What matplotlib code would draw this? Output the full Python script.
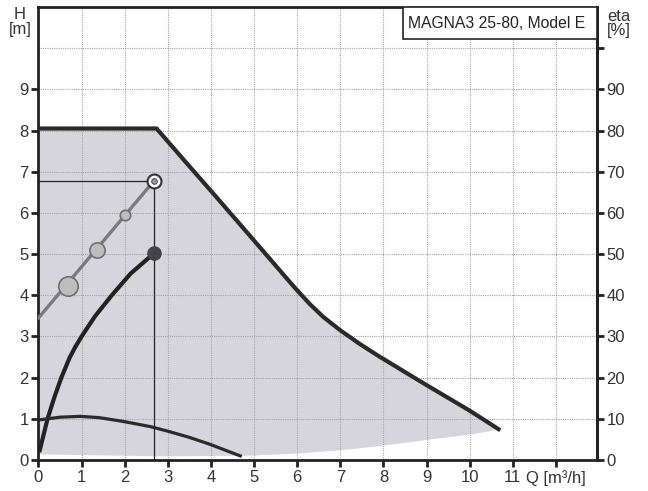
import matplotlib
matplotlib.use("Agg")
import matplotlib.pyplot as plt
import numpy as np
from matplotlib.patches import Rectangle

plt.rcParams["font.family"] = ["Liberation Sans", "DejaVu Sans"]

# max curve (upper edge of the operating area), H [m] vs Q [m3/h]
max_q = [0.0, 2.74, 3.36, 4.13, 4.9, 5.84, 6.0, 6.3, 6.6, 7.0, 7.45, 7.85, 8.62, 9.0, 10.0, 10.67]
max_h = [8.05, 8.05, 7.3, 6.38, 5.45, 4.31, 4.12, 3.78, 3.48, 3.15, 2.82, 2.55, 2.06, 1.82, 1.2, 0.75]

# lower edge of the shaded area
min_q = [0.0, 1.0, 3.0, 5.0, 6.0, 7.0, 8.0, 9.0, 10.0, 10.67]
min_h = [0.15, 0.12, 0.1, 0.12, 0.17, 0.25, 0.36, 0.5, 0.63, 0.75]

# efficiency curve, eta [%]
eta_q = [0.03, 0.21, 0.37, 0.53, 0.72, 0.85, 1.0, 1.31, 1.70, 2.14, 2.68]
eta_pct = [2.4, 10, 15.3, 20, 24.8, 27.4, 30, 34.9, 40, 45.3, 50.2]

# lower curve
low_q = [0.05, 0.5, 0.97, 1.4, 1.95, 2.6, 3.0, 3.5, 3.98, 4.68]
low_h = [0.98, 1.04, 1.06, 1.03, 0.94, 0.81, 0.7, 0.55, 0.38, 0.1]

# system curve with markers
sys_q = [0.0, 2.68]
sys_h = [3.45, 6.78]
marker_q = [0.69, 1.35, 2.0]
marker_h = [4.23, 5.09, 5.95]
marker_size = [14, 11, 7.5]

duty_q = 2.68
duty_h = 6.78
duty_eta = 50.2

fig = plt.figure(figsize=(6.48, 4.91), dpi=100)
ax = fig.add_axes([0.0594, 0.0631, 0.8616, 0.9226])

ax.set_xlim(0, 12.95)
ax.set_ylim(0, 11)
ax.set_axisbelow(True)
ax.grid(True, color="#a5a5a5", linestyle=(0, (1, 1)), linewidth=0.8)

qq = np.array(max_q)
lower = np.interp(qq, min_q, min_h)
ax.fill_between(qq, lower, max_h, color="#d6d4dd", zorder=0.2, linewidth=0)

ax.plot(max_q, max_h, color="#2a2a2a", lw=3, solid_joinstyle="round", zorder=3)

# reference lines to the duty point
ax.plot([0, duty_q], [duty_h, duty_h], color="#222222", lw=0.9, zorder=3)
ax.plot([duty_q, duty_q], [0, duty_h], color="#222222", lw=0.9, zorder=3)

ax.plot(sys_q, sys_h, color="#7a7a7a", lw=2.4, zorder=4)
for q, h, s in zip(marker_q, marker_h, marker_size):
    ax.plot(q, h, "o", ms=s, mfc="#bdbdbd", mec="#6f6f6f", mew=1.2, zorder=5)
ax.plot(duty_q, duty_h, "o", ms=10, mfc="white", mec="#333333", mew=1.5, zorder=5)
ax.plot(duty_q, duty_h, "o", ms=4, mfc="#9a9a9a", mec="#555555", mew=0.8, zorder=6)

eta_h = [e / 10 for e in eta_pct]
ax.plot(eta_q, eta_h, color="#222222", lw=3, solid_joinstyle="round", zorder=4)
ax.plot(duty_q, duty_eta / 10, "o", ms=9.5, color="#444444", zorder=5)

ax.plot(low_q, low_h, color="#2a2a2a", lw=2.3, solid_joinstyle="round", zorder=4)

for side in ["left", "bottom", "right", "top"]:
    ax.spines[side].set_linewidth(2)
    ax.spines[side].set_color("#222222")

ax.set_xticks(range(0, 13))
ax.set_xticklabels([str(i) for i in range(0, 12)] + ["Q [m³/h]"])
ax.set_yticks(range(0, 12))
ax.set_yticklabels([str(i) for i in range(0, 10)] + ["", ""])
ax.tick_params(axis="both", direction="out", length=5, width=2, labelsize=12,
               colors="#222222", labelcolor="#333333", pad=2)
ax.yaxis.get_major_ticks()[10].tick1line.set_visible(False)
ax.yaxis.get_major_ticks()[11].tick1line.set_visible(False)

sec = ax.secondary_yaxis("right", functions=(lambda h: h * 10, lambda e: e / 10))
sec.set_yticks(range(0, 110, 10))
sec.set_yticklabels([str(i) for i in range(0, 100, 10)] + [""])
sec.tick_params(direction="out", length=5, width=2, labelsize=12,
                colors="#222222", labelcolor="#333333", pad=2)
sec.spines["right"].set_linewidth(2)

ax.add_patch(Rectangle((0.653, 0.929), 0.347, 0.071, transform=ax.transAxes,
                       facecolor="white", edgecolor="#222222", lw=1.2, zorder=7))
ax.text(0.662, 0.964, "MAGNA3 25-80, Model E", transform=ax.transAxes,
        fontsize=11.3, color="#222222", ha="left", va="center", zorder=8)

fig.text(0.031, 0.985, "H\n[m]", ha="center", va="top", fontsize=12,
         color="#333333", linespacing=0.95)
fig.text(0.937, 0.982, "eta\n[%]", ha="left", va="top", fontsize=12,
         color="#333333", linespacing=0.95)

fig.savefig("out.png", dpi=100)
